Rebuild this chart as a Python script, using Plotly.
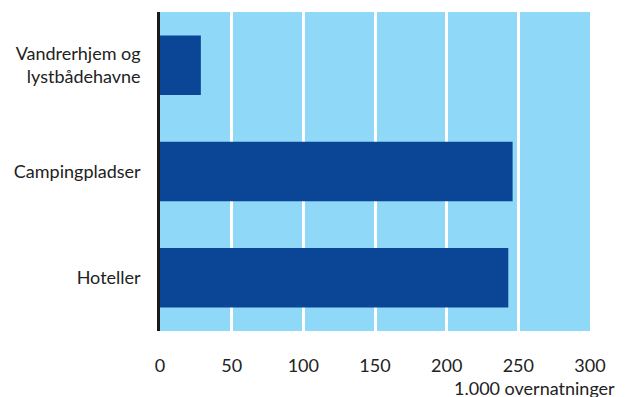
import plotly.graph_objects as go

categories = ["Vandrerhjem og<br>lystbådehavne", "Campingpladser", "Hoteller"]
values = [28.5, 246, 243]
x_ticks = [0, 50, 100, 150, 200, 250, 300]
x_title = "1.000 overnatninger"

FONT = "Lato, sans-serif"
FS = 18

fig = go.Figure(go.Bar(
    x=values, y=categories, orientation="h",
    marker=dict(color="#0b4595", line=dict(width=0)),
    width=0.56,
))

fig.update_layout(
    width=627, height=397,
    margin=dict(l=152, r=45, t=4, b=74),
    plot_bgcolor="#8fd8f7", paper_bgcolor="white",
    showlegend=False,
    font=dict(family=FONT, size=FS, color="#222222"),
    xaxis=dict(range=[0, 300], tickvals=x_ticks, showgrid=True,
               gridcolor="white", gridwidth=2.5, zeroline=False,
               showline=False, ticks="", ticklabelstandoff=22,
               automargin=False,
               tickfont=dict(family=FONT, size=FS, color="#222222"),
               fixedrange=True),
    yaxis=dict(categoryorder="array", categoryarray=categories[::-1],
               showline=True, linecolor="#1a1a1a", linewidth=2.5,
               ticks="", ticklabelstandoff=13, showgrid=False,
               automargin=False,
               tickfont=dict(family=FONT, size=FS, color="#222222")),
    annotations=[dict(text=x_title, xref="paper", yref="paper",
                      x=1.063, y=0, xanchor="right", yanchor="middle",
                      yshift=-57, showarrow=False,
                      font=dict(family=FONT, size=FS, color="#222222"))],
)

fig.write_html("out.html")
